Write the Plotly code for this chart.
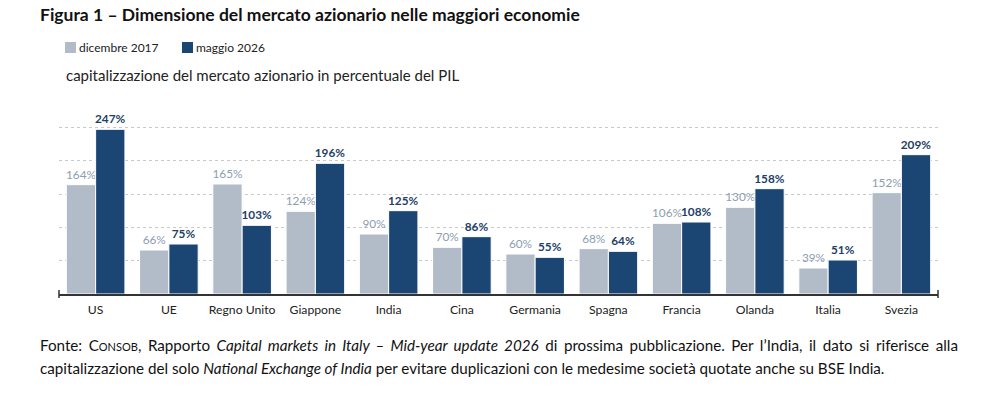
import plotly.graph_objects as go

categories = ["US", "UE", "Regno Unito", "Giappone", "India", "Cina", "Germania",
              "Spagna", "Francia", "Olanda", "Italia", "Svezia"]
dic2017 = [164, 66, 165, 124, 90, 70, 60, 68, 106, 130, 39, 152]
mag2026 = [247, 75, 103, 196, 125, 86, 55, 64, 108, 158, 51, 209]
series_names = ["dicembre 2017", "maggio 2026"]

LIGHT = "#B1BCC8"
DARK = "#1B4674"
LIGHT_TXT = "#8D9DB1"
DARK_TXT = "#1E3F68"
FONT = "Lato, sans-serif"

fig = go.Figure()
fig.add_trace(go.Bar(
    x=categories, y=dic2017, name=series_names[0],
    marker=dict(color=LIGHT, line=dict(color="white", width=1)),
    text=[f"{v}%" for v in dic2017], textposition="outside", cliponaxis=False,
    constraintext="none",
    textfont=dict(family=FONT, size=11.8, color=LIGHT_TXT),
))
fig.add_trace(go.Bar(
    x=categories, y=mag2026, name=series_names[1],
    marker=dict(color=DARK, line=dict(color="white", width=1)),
    text=[f"<b>{v}%</b>" for v in mag2026], textposition="outside", cliponaxis=False,
    constraintext="none",
    textfont=dict(family=FONT, size=11.8, color=DARK_TXT),
))

fig.update_layout(
    width=993, height=400,
    margin=dict(l=59, r=55, t=94, b=106),
    paper_bgcolor="white", plot_bgcolor="white",
    barmode="group", bargap=0.2, bargroupgap=0,
    showlegend=False,
    xaxis=dict(showgrid=False, ticks="", showline=True, linecolor="#333333", linewidth=1.5,
               ticklabelstandoff=4,
               tickfont=dict(family=FONT, size=12.2, color="#222222"), fixedrange=True),
    yaxis=dict(range=[0, 300], dtick=50, showticklabels=False, showgrid=True,
               gridcolor="#C9C9C9", griddash="dot", gridwidth=1, zeroline=False,
               showline=False, fixedrange=True),
)

# end ticks of the x axis line
for xp in (0, 1):
    fig.add_shape(type="line", xref="paper", yref="paper", x0=xp, x1=xp,
                  y0=-0.02, y1=0.02, line=dict(color="#333333", width=1.5))

# title
fig.add_annotation(xref="paper", yref="paper", x=-21/879, y=1 + 80/200, xanchor="left", yanchor="middle",
                   text="<b>Figura 1 – Dimensione del mercato azionario nelle maggiori economie</b>",
                   showarrow=False, font=dict(family=FONT, size=17.5, color="#111111"))

# legend (manual)
leg = [(65, LIGHT, series_names[0]), (182, DARK, series_names[1])]
for px, col, name in leg:
    x0 = (px - 59) / 879
    x1 = (px + 11 - 59) / 879
    fig.add_shape(type="rect", xref="paper", yref="paper", x0=x0, x1=x1,
                  y0=1 + (94 - 53) / 200, y1=1 + (94 - 42) / 200,
                  line=dict(width=0), fillcolor=col)
    fig.add_annotation(xref="paper", yref="paper", x=(px + 12 - 59) / 879, y=1 + (94 - 47.5) / 200,
                       xanchor="left", yanchor="middle", text=name, showarrow=False,
                       font=dict(family=FONT, size=12, color="#222222"))

# subtitle
fig.add_annotation(xref="paper", yref="paper", x=(64 - 59) / 879, y=1 + (94 - 75) / 200,
                   xanchor="left", yanchor="middle",
                   text="capitalizzazione del mercato azionario in percentuale del PIL",
                   showarrow=False, font=dict(family=FONT, size=15, color="#222222"))

# footnote
line1 = ("<span style='word-spacing:2.65px'>Fonte: C<span style='font-size:11px'>ONSOB</span>, Rapporto <i>Capital markets in Italy – "
         "Mid-year update 2026</i> di prossima pubblicazione. Per l’India, il dato si riferisce alla</span>")
line2 = ("capitalizzazione del solo <i>National Exchange of India</i> per evitare duplicazioni con le "
         "medesime società quotate anche su BSE India.")
for i, t in enumerate([line1, line2]):
    fig.add_annotation(xref="paper", yref="paper", x=(38 - 59) / 879,
                       y=-(345 + 23 * i - 294) / 200, xanchor="left", yanchor="middle",
                       text=t, showarrow=False, align="left",
                       font=dict(family=FONT, size=15.2, color="#111111"))

fig.write_html("out.html")
